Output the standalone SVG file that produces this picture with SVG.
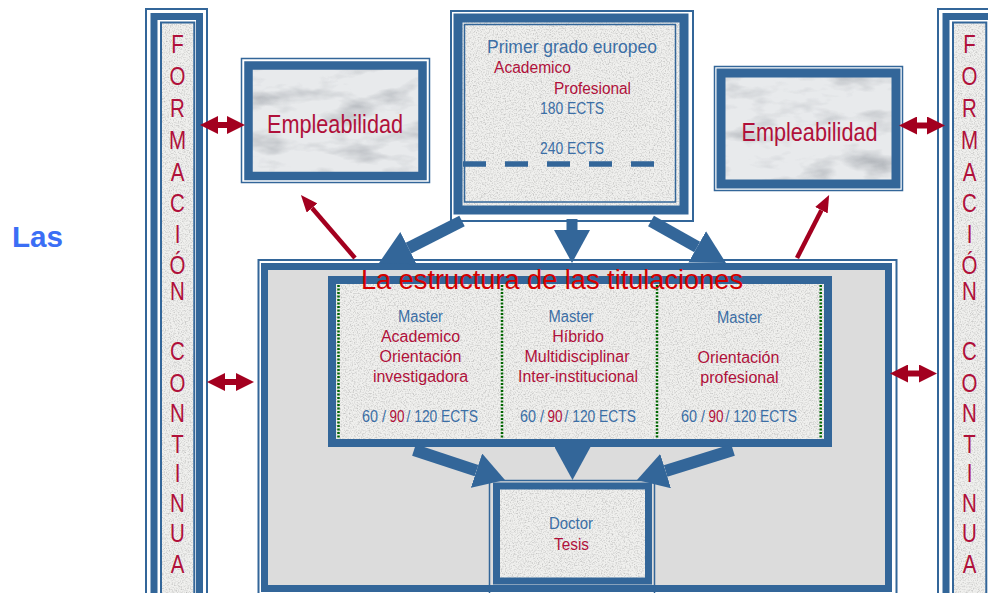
<svg xmlns="http://www.w3.org/2000/svg" width="988" height="593" viewBox="0 0 988 593">
<defs>
<style>
.t{font-family:"Liberation Sans",Arial,sans-serif}
.b{fill:#3b6ea5}
.r{fill:#b0103a}
.ln{fill:none;stroke:#336699}
.tex{fill:#f0f0ee}
.mar{fill:#e8eaec}
.ba{stroke:#336699;fill:none;stroke-linecap:butt}
.ra{stroke:#a3001f;fill:none;stroke-linecap:butt}
</style>
<filter id="grain" x="0" y="0" width="1" height="1" color-interpolation-filters="sRGB">
<feTurbulence type="fractalNoise" baseFrequency="0.75" numOctaves="2" seed="7" result="n"/>
<feColorMatrix in="n" type="matrix" values="0 0 0 0 0.5  0 0 0 0 0.5  0 0 0 0 0.5  1.0 0 0 0 -0.45" result="g"/>
<feComposite in="g" in2="SourceGraphic" operator="in"/>
</filter>
<filter id="marble" x="0" y="0" width="1" height="1" color-interpolation-filters="sRGB">
<feTurbulence type="fractalNoise" baseFrequency="0.018 0.045" numOctaves="4" seed="11" result="n"/>
<feColorMatrix in="n" type="matrix" values="0 0 0 0 0.55  0 0 0 0 0.57  0 0 0 0 0.6  1.3 0 0 0 -0.62" result="g"/>
<feComposite in="g" in2="SourceGraphic" operator="in"/>
</filter>
<marker id="bh" markerUnits="userSpaceOnUse" viewBox="0 -18 33 36" refX="0" refY="0" markerWidth="33" markerHeight="36" orient="auto"><path d="M0,-18 L33,0 L0,18 z" fill="#336699"/></marker>
<marker id="bh2" markerUnits="userSpaceOnUse" viewBox="0 -18 30 36" refX="0" refY="0" markerWidth="30" markerHeight="36" orient="auto"><path d="M0,-18 L30,0 L0,18 z" fill="#336699"/></marker>
<marker id="rh" markerUnits="userSpaceOnUse" viewBox="0 -9 18 18" refX="0" refY="0" markerWidth="18" markerHeight="18" orient="auto-start-reverse"><path d="M0,-9 L18,0 L0,9 z" fill="#a3001f"/></marker>
<marker id="rs" markerUnits="userSpaceOnUse" viewBox="0 -7 17 14" refX="0" refY="0" markerWidth="17" markerHeight="14" orient="auto"><path d="M0,-7 L17,0 L0,7 z" fill="#a3001f"/></marker>
</defs>
<rect width="988" height="593" fill="#ffffff"/>

<g id="label-las">
<text class="t" x="12" y="247" font-size="30" font-weight="bold" fill="#3b6ef5" textLength="51" lengthAdjust="spacingAndGlyphs">Las</text>
</g>

<g id="formacion-izq">
<rect class="ln" x="146" y="9" width="61" height="620" stroke-width="2"/>
<rect class="ln" x="154" y="16.5" width="45.5" height="620" stroke-width="7"/>
<rect class="tex" x="161" y="22.5" width="33.3" height="600"/>
<rect x="161" y="22.5" width="33.3" height="600" filter="url(#grain)"/>
<rect class="ln" x="161" y="22.5" width="33.3" height="600" stroke-width="2"/>
<g transform="translate(177.5 0) scale(0.82 1)">
<text class="t r" font-size="25" text-anchor="middle"><tspan x="0" y="53">F</tspan><tspan x="0" y="85">O</tspan><tspan x="0" y="117">R</tspan><tspan x="0" y="149">M</tspan><tspan x="0" y="181">A</tspan><tspan x="0" y="212">C</tspan><tspan x="0" y="243">I</tspan><tspan x="0" y="274">Ó</tspan><tspan x="0" y="300">N</tspan><tspan x="0" y="360">C</tspan><tspan x="0" y="392">O</tspan><tspan x="0" y="422">N</tspan><tspan x="0" y="453">T</tspan><tspan x="0" y="482">I</tspan><tspan x="0" y="512">N</tspan><tspan x="0" y="542">U</tspan><tspan x="0" y="573">A</tspan></text>
</g>
</g>

<g id="formacion-der">
<rect class="ln" x="938" y="9" width="61" height="620" stroke-width="2"/>
<rect class="ln" x="946" y="16.5" width="45.5" height="620" stroke-width="7"/>
<rect class="tex" x="953" y="22.5" width="33.3" height="600"/>
<rect x="953" y="22.5" width="33.3" height="600" filter="url(#grain)"/>
<rect class="ln" x="953" y="22.5" width="33.3" height="600" stroke-width="2"/>
<g transform="translate(969.5 0) scale(0.82 1)">
<text class="t r" font-size="25" text-anchor="middle"><tspan x="0" y="53">F</tspan><tspan x="0" y="85">O</tspan><tspan x="0" y="117">R</tspan><tspan x="0" y="149">M</tspan><tspan x="0" y="181">A</tspan><tspan x="0" y="212">C</tspan><tspan x="0" y="243">I</tspan><tspan x="0" y="274">Ó</tspan><tspan x="0" y="300">N</tspan><tspan x="0" y="360">C</tspan><tspan x="0" y="392">O</tspan><tspan x="0" y="422">N</tspan><tspan x="0" y="453">T</tspan><tspan x="0" y="482">I</tspan><tspan x="0" y="512">N</tspan><tspan x="0" y="542">U</tspan><tspan x="0" y="573">A</tspan></text>
</g>
</g>

<g id="empleabilidad-izq">
<rect class="ln" x="241.5" y="58.5" width="188" height="124" stroke-width="1.5"/>
<rect class="mar" x="252" y="69" width="167" height="103"/>
<rect x="252" y="69" width="167" height="103" filter="url(#marble)"/>
<rect class="ln" x="248.5" y="65.5" width="174" height="110.5" stroke-width="8.5"/>
<text class="t r" x="335" y="133" font-size="25" text-anchor="middle" textLength="136" lengthAdjust="spacingAndGlyphs">Empleabilidad</text>
</g>

<g id="empleabilidad-der">
<rect class="ln" x="714.5" y="66.5" width="188" height="124" stroke-width="1.5"/>
<rect class="mar" x="725" y="77" width="167" height="103"/>
<rect x="725" y="77" width="167" height="103" filter="url(#marble)"/>
<rect class="ln" x="721" y="73" width="175" height="111" stroke-width="9"/>
<text class="t r" x="809.5" y="141" font-size="25" text-anchor="middle" textLength="136" lengthAdjust="spacingAndGlyphs">Empleabilidad</text>
</g>

<g id="primer-grado">
<rect class="ln" x="451" y="11" width="242" height="210" stroke-width="2"/>
<rect class="tex" x="462" y="22" width="218" height="184"/>
<rect x="462" y="22" width="218" height="184" filter="url(#grain)"/>
<rect class="ln" x="458" y="18" width="226" height="192" stroke-width="9"/>
<rect class="ln" x="464.5" y="24.5" width="211" height="177.5" stroke-width="1.5"/>
<text class="t b" x="572" y="53" font-size="19" text-anchor="middle" textLength="170" lengthAdjust="spacingAndGlyphs">Primer grado europeo</text>
<text class="t r" x="494" y="73" font-size="16" textLength="77" lengthAdjust="spacingAndGlyphs">Academico</text>
<text class="t r" x="554" y="94" font-size="16" textLength="77" lengthAdjust="spacingAndGlyphs">Profesional</text>
<text class="t b" x="540" y="114" font-size="16" textLength="64" lengthAdjust="spacingAndGlyphs">180 ECTS</text>
<text class="t b" x="540" y="154" font-size="16" textLength="64" lengthAdjust="spacingAndGlyphs">240 ECTS</text>
<line x1="463" y1="164" x2="656" y2="164" stroke="#336699" stroke-width="5.5" stroke-dasharray="23 19"/>
</g>

<g id="estructura">
<rect class="ln" x="258.5" y="260" width="638" height="345" stroke-width="2"/>
<rect x="264.5" y="266.5" width="624" height="322" fill="#dcdcdc" stroke="#336699" stroke-width="7"/>

<g id="masters">
<rect class="tex" x="336" y="284" width="488" height="155"/>
<rect x="336" y="284" width="488" height="155" filter="url(#grain)"/>
<rect class="ln" x="332" y="280" width="496" height="163" stroke-width="8"/>
<g stroke="#006600" stroke-width="2.5" stroke-dasharray="2 1.5">
<line x1="338.5" y1="285" x2="338.5" y2="438"/>
<line x1="502" y1="285" x2="502" y2="438"/>
<line x1="657" y1="285" x2="657" y2="438"/>
<line x1="820.7" y1="285" x2="820.7" y2="438"/>
</g>
<g id="master-academico">
<text class="t b" x="420.5" y="322" font-size="16" text-anchor="middle" textLength="45" lengthAdjust="spacingAndGlyphs">Master</text>
<text class="t r" x="420.5" y="342" font-size="16" text-anchor="middle">Academico</text>
<text class="t r" x="420.5" y="362" font-size="16" text-anchor="middle">Orientación</text>
<text class="t r" x="420.5" y="382" font-size="16" text-anchor="middle">investigadora</text>
<text class="t b" x="362" y="422" font-size="16" textLength="24" lengthAdjust="spacingAndGlyphs">60 /</text>
<text class="t r" x="389.5" y="422" font-size="16" textLength="15" lengthAdjust="spacingAndGlyphs">90</text>
<text class="t b" x="406.5" y="422" font-size="16" textLength="71.5" lengthAdjust="spacingAndGlyphs">/ 120 ECTS</text>
</g>
<g id="master-hibrido">
<text class="t b" x="571" y="322" font-size="16" text-anchor="middle" textLength="45" lengthAdjust="spacingAndGlyphs">Master</text>
<text class="t r" x="578" y="342" font-size="16" text-anchor="middle">Híbrido</text>
<text class="t r" x="577" y="362" font-size="16" text-anchor="middle">Multidisciplinar</text>
<text class="t r" x="578" y="382" font-size="16" text-anchor="middle" textLength="120" lengthAdjust="spacingAndGlyphs">Inter-institucional</text>
<text class="t b" x="520" y="422" font-size="16" textLength="24" lengthAdjust="spacingAndGlyphs">60 /</text>
<text class="t r" x="547.5" y="422" font-size="16" textLength="15" lengthAdjust="spacingAndGlyphs">90</text>
<text class="t b" x="564.5" y="422" font-size="16" textLength="71.5" lengthAdjust="spacingAndGlyphs">/ 120 ECTS</text>
</g>
<g id="master-profesional">
<text class="t b" x="739.5" y="323" font-size="16" text-anchor="middle" textLength="45" lengthAdjust="spacingAndGlyphs">Master</text>
<text class="t r" x="738.5" y="363" font-size="16" text-anchor="middle">Orientación</text>
<text class="t r" x="739.5" y="383" font-size="16" text-anchor="middle">profesional</text>
<text class="t b" x="681" y="422" font-size="16" textLength="24" lengthAdjust="spacingAndGlyphs">60 /</text>
<text class="t r" x="708.5" y="422" font-size="16" textLength="15" lengthAdjust="spacingAndGlyphs">90</text>
<text class="t b" x="725.5" y="422" font-size="16" textLength="71.5" lengthAdjust="spacingAndGlyphs">/ 120 ECTS</text>
</g>
</g>

<g id="doctor">
<rect class="ln" x="489.5" y="480.5" width="165" height="120" stroke-width="1.5"/>
<rect class="tex" x="499" y="489" width="147" height="89"/>
<rect x="499" y="489" width="147" height="89" filter="url(#grain)"/>
<rect class="ln" x="496.5" y="486" width="152" height="95" stroke-width="7"/>
<text class="t b" x="571" y="529" font-size="16" text-anchor="middle" textLength="44" lengthAdjust="spacingAndGlyphs">Doctor</text>
<text class="t r" x="571.5" y="550" font-size="16" text-anchor="middle" textLength="35" lengthAdjust="spacingAndGlyphs">Tesis</text>
</g>

<text class="t" x="361" y="289" font-size="27" fill="#d50000" textLength="382" lengthAdjust="spacingAndGlyphs">La estructura de las titulaciones</text>
</g>

<g id="connectors">
<line class="ba" x1="462" y1="221" x2="408.45" y2="248.1" stroke-width="12" marker-end="url(#bh)"/>
<line class="ba" x1="572" y1="219" x2="572" y2="230" stroke-width="11" marker-end="url(#bh)"/>
<line class="ba" x1="651" y1="221" x2="697.2" y2="246.9" stroke-width="12" marker-end="url(#bh)"/>
<line class="ba" x1="414" y1="450" x2="476.5" y2="470.6" stroke-width="12" marker-end="url(#bh2)"/>
<line class="ba" x1="572.5" y1="440" x2="572.5" y2="447" stroke-width="11" marker-end="url(#bh)"/>
<line class="ba" x1="733" y1="450" x2="665.6" y2="471.1" stroke-width="12" marker-end="url(#bh2)"/>
<line class="ra" x1="218" y1="125" x2="227" y2="125" stroke-width="6" marker-start="url(#rh)" marker-end="url(#rh)"/>
<line class="ra" x1="225" y1="382" x2="236" y2="382" stroke-width="6" marker-start="url(#rh)" marker-end="url(#rh)"/>
<line class="ra" x1="917" y1="125.5" x2="927" y2="125.5" stroke-width="6" marker-start="url(#rh)" marker-end="url(#rh)"/>
<line class="ra" x1="908" y1="373.5" x2="919" y2="373.5" stroke-width="6" marker-start="url(#rh)" marker-end="url(#rh)"/>
<line class="ra" x1="355" y1="258" x2="312" y2="208" stroke-width="4.5" marker-end="url(#rs)"/>
<line class="ra" x1="797" y1="258" x2="821.4" y2="210.2" stroke-width="4.5" marker-end="url(#rs)"/>
</g>
</svg>
